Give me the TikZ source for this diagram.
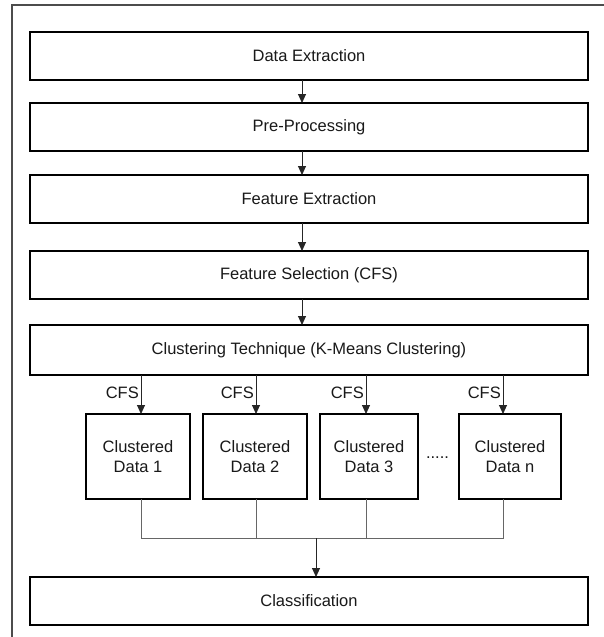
\documentclass[tikz,border=0pt]{standalone}
\usepackage{fontspec}
\setmainfont{Liberation Sans}
\usetikzlibrary{arrows.meta}
\begin{document}
\begin{tikzpicture}[x=1pt,y=-1pt,
  every node/.style={font=\fontsize{16.5}{19.5}\selectfont, text=black!90},
  mainbox/.style={draw=black, line width=1.8pt, minimum width=558pt, minimum height=48pt, inner sep=0pt, outer sep=0pt},
  clbox/.style={draw=black, line width=1.6pt, minimum height=85pt, inner sep=0pt, outer sep=0pt, align=center},
  arr/.style={draw=black!85, line width=0.9pt, -{Triangle[length=9pt,width=8pt]}},
  thin/.style={draw=black!60, line width=0.9pt},
  lbl/.style={anchor=east, inner sep=0pt}
]
\useasboundingbox (0,0) rectangle (603,637);
\fill[white] (0,0) rectangle (603,637);
% frame
\draw[black!70, line width=1.5pt] (12,645) -- (12,5) -- (610,5);

\node[mainbox] (b1) at (309,56) {Data Extraction};
\node[mainbox] (b2) at (309,127) {Pre-Processing};
\node[mainbox] (b3) at (309,199) {Feature Extraction};
\node[mainbox] (b4) at (309,275) {Feature Selection (CFS)};
\node[mainbox, minimum height=50pt] (b5) at (309,350) {Clustering Technique (K-Means Clustering)};

\draw[arr] ([xshift=-7pt]b1.south) -- ([xshift=-7pt]b2.north);
\draw[arr] ([xshift=-7pt]b2.south) -- ([xshift=-7pt]b3.north);
\draw[arr] ([xshift=-7pt]b3.south) -- ([xshift=-7pt]b4.north);
\draw[arr] ([xshift=-7pt]b4.south) -- ([xshift=-7pt]b5.north);

\node[clbox, minimum width=104pt] (c1) at (138,456.5) {Clustered\\Data 1};
\node[clbox, minimum width=104pt] (c2) at (255,456.5) {Clustered\\Data 2};
\node[clbox, minimum width=98pt] (c3) at (369,456.5) {Clustered\\Data 3};
\node[clbox, minimum width=102pt] (cn) at (510,456.5) {Clustered\\Data n};
\node (dots) at (437.5,458) {.....};

\draw[arr] ([xshift=3pt]c1.north |- b5.south) -- ([xshift=3pt]c1.north);
\draw[arr] ([xshift=1pt]c2.north |- b5.south) -- ([xshift=1pt]c2.north);
\draw[arr] ([xshift=-3pt]c3.north |- b5.south) -- ([xshift=-3pt]c3.north);
\draw[arr] ([xshift=-7pt]cn.north |- b5.south) -- ([xshift=-7pt]cn.north);

\node[lbl] (l1) at (139,393) {CFS};
\node[lbl] (l2) at (254,393) {CFS};
\node[lbl] (l3) at (364,393) {CFS};
\node[lbl] (l4) at (501,393) {CFS};

\node[mainbox] (cl) at (309,601) {Classification};

\coordinate (m) at (316,538);
\draw[thin] ([xshift=3pt]c1.south) -- ([xshift=3pt]c1.south |- m) -- ([xshift=-7pt]cn.south |- m) -- ([xshift=-7pt]cn.south);
\draw[thin] ([xshift=1pt]c2.south) -- ([xshift=1pt]c2.south |- m);
\draw[thin] ([xshift=-3pt]c3.south) -- ([xshift=-3pt]c3.south |- m);
\draw[arr] (m) -- (m |- cl.north);
\end{tikzpicture}
\end{document}
